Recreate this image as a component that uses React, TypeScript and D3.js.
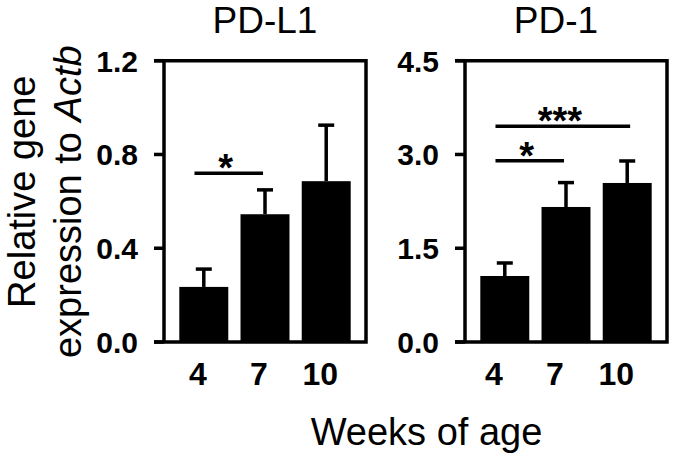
import React from "react";
import * as d3 from "d3";

const categories = ["4", "7", "10"];
const pdl1Means = [0.235, 0.545, 0.686];
const pdl1Errors = [0.076, 0.104, 0.239];
const pd1Means = [1.056, 2.16, 2.544];
const pd1Errors = [0.208, 0.39, 0.352];
const pdl1Ticks = [0, 0.4, 0.8, 1.2];
const pd1Ticks = [0, 1.5, 3.0, 4.5];
const pdl1Sig = [{ from: 0, to: 1, level: 0.72, label: "*" }];
const pd1Sig = [
  { from: 0, to: 1, level: 2.9, label: "*" },
  { from: 0, to: 2, level: 3.45, label: "***" },
];

const FONT = "'Liberation Sans', Arial, Helvetica, sans-serif";
const W = 675;
const H = 458;
const TOP = 60.7;
const BOTTOM = 342;
const SW = 3.5;

type PanelProps = {
  title: string;
  means: number[];
  errors: number[];
  ticks: number[];
  yMax: number;
  sig: { from: number; to: number; level: number; label: string }[];
  x0: number;
  x1: number;
  labelShift: number;
  titleShift: number;
};

function Panel(p: PanelProps) {
  const x = d3
    .scaleBand<string>()
    .domain(categories)
    .range([p.x0, p.x1])
    .paddingInner(0.2)
    .paddingOuter(0.25);
  const y = d3.scaleLinear().domain([0, p.yMax]).range([BOTTOM, TOP]);
  const bw = x.bandwidth();
  const fmt = d3.format(".1f");
  return (
    <g>
      <text
        x={(p.x0 + p.x1) / 2 + p.titleShift}
        y={33}
        textAnchor="middle"
        fontFamily={FONT}
        fontSize={37}
      >
        {p.title}
      </text>
      {categories.map((c, i) => (
        <rect
          key={c}
          x={x(c)}
          y={y(p.means[i])}
          width={bw}
          height={BOTTOM - y(p.means[i])}
          fill="#000"
        />
      ))}
      {categories.map((c, i) => {
        const cx = (x(c) as number) + bw / 2;
        const top = y(p.means[i] + p.errors[i]);
        return (
          <g key={"e" + c} stroke="#000" strokeWidth={SW}>
            <line x1={cx} x2={cx} y1={y(p.means[i])} y2={top} />
            <line x1={cx - 8} x2={cx + 8} y1={top} y2={top} />
          </g>
        );
      })}
      <path
        d={`M${p.x0 - 10},${TOP} H${p.x1} V${BOTTOM} H${p.x0 - 10}`}
        fill="none"
        stroke="#000"
        strokeWidth={SW}
      />
      <line x1={p.x0} x2={p.x0} y1={TOP} y2={BOTTOM} stroke="#000" strokeWidth={SW} />
      {p.ticks.map((t) => (
        <g key={t}>
          <line x1={p.x0 - 10} x2={p.x0} y1={y(t)} y2={y(t)} stroke="#000" strokeWidth={SW} />
          <text
            x={p.x0 - 26}
            y={y(t)}
            dy="0.36em"
            textAnchor="end"
            fontFamily={FONT}
            fontWeight="bold"
            fontSize={30}
          >
            {fmt(t)}
          </text>
        </g>
      ))}
      {categories.map((c) => (
        <text
          key={"l" + c}
          x={(x(c) as number) + bw / 2 + p.labelShift}
          y={385}
          textAnchor="middle"
          fontFamily={FONT}
          fontWeight="bold"
          fontSize={32}
        >
          {c}
        </text>
      ))}
      {p.sig.map((s, k) => {
        const xa = (x(categories[s.from]) as number) + bw * 0.31;
        const xb = (x(categories[s.to]) as number) + bw * (s.to === 2 ? 0.56 : 0.46);
        const ly = y(s.level);
        return (
          <g key={"s" + k}>
            <line x1={xa} x2={xb} y1={ly} y2={ly} stroke="#000" strokeWidth={SW} />
            <text
              x={(xa + xb) / 2 - 3}
              y={ly + 8}
              textAnchor="middle"
              fontFamily={FONT}
              fontWeight="bold"
              fontSize={38}
            >
              {s.label}
            </text>
          </g>
        );
      })}
    </g>
  );
}

export default function App() {
  return (
    <div style={{ position: "absolute", left: 0, top: 0 }}>
      <svg width={W} height={H} viewBox={`0 0 ${W} ${H}`} style={{ display: "block", background: "#fff" }}>
        <rect width={W} height={H} fill="#fff" />
        <text
          transform="translate(35,191.7) rotate(-90)"
          textAnchor="middle"
          fontFamily={FONT}
          fontSize={38}
        >
          Relative gene
        </text>
        <text
          transform="translate(81,201.7) rotate(-90)"
          textAnchor="middle"
          fontFamily={FONT}
          fontSize={38}
        >
          expression to <tspan fontStyle="italic">Actb</tspan>
        </text>
        <Panel
          title="PD-L1"
          means={pdl1Means}
          errors={pdl1Errors}
          ticks={pdl1Ticks}
          yMax={1.2}
          sig={pdl1Sig}
          x0={164}
          x1={366}
          labelShift={-6}
          titleShift={0}
        />
        <Panel
          title="PD-1"
          means={pd1Means}
          errors={pd1Errors}
          ticks={pd1Ticks}
          yMax={4.5}
          sig={pd1Sig}
          x0={465}
          x1={667}
          labelShift={-11}
          titleShift={-10}
        />
        <text x={426.5} y={445} textAnchor="middle" fontFamily={FONT} fontSize={38}>
          Weeks of age
        </text>
      </svg>
    </div>
  );
}
